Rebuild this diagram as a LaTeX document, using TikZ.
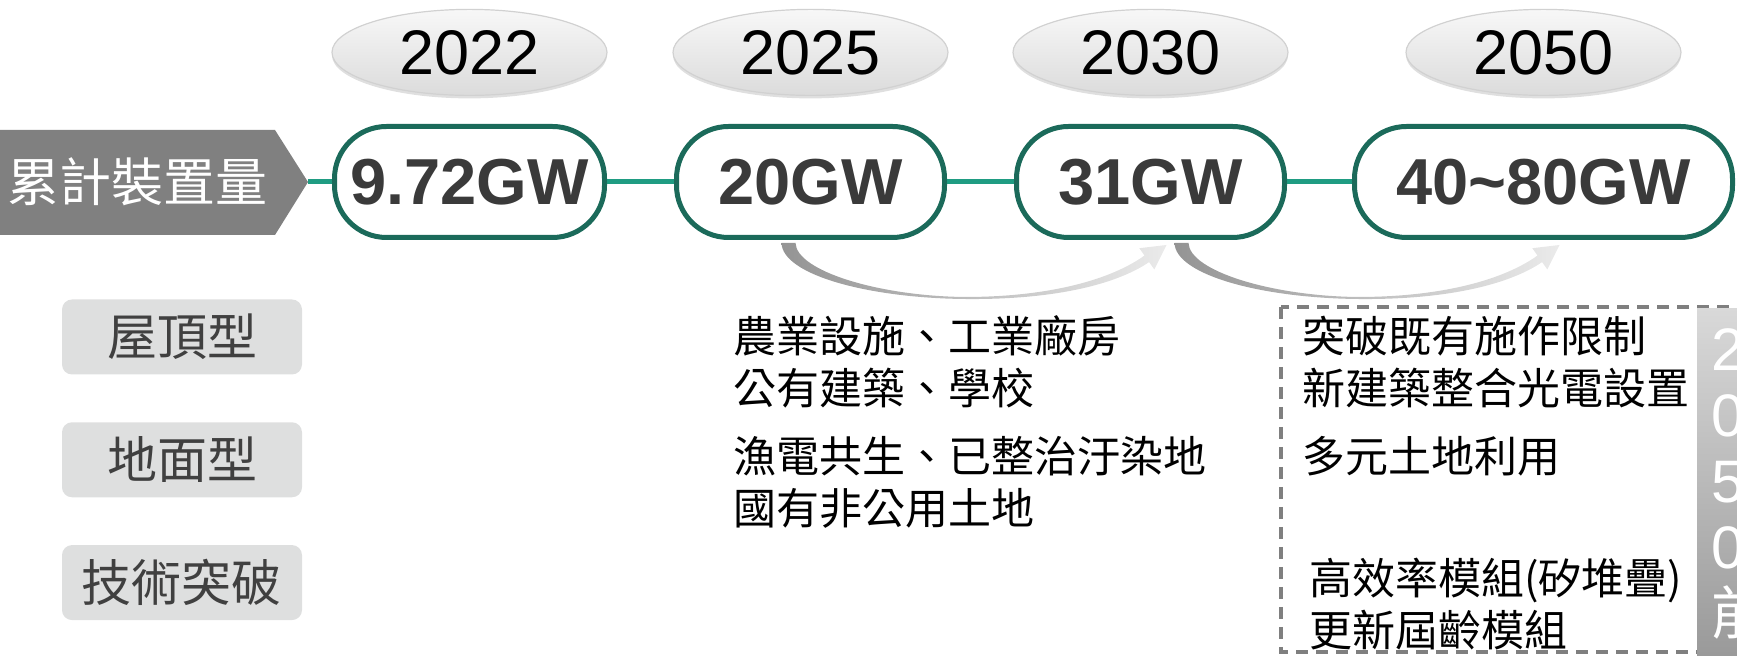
\documentclass[tikz,border=0pt]{standalone}
\usepackage{fontspec}
\setmainfont{Liberation Sans}
\newfontfamily\cjk{Noto Sans CJK TC}
\usetikzlibrary{positioning,calc,shadows,shapes.geometric}

\definecolor{tealdark}{HTML}{1B6A5A}
\definecolor{teallink}{HTML}{1F9C82}
\definecolor{gwtext}{HTML}{3A3A3A}
\definecolor{tagfill}{HTML}{DEDFDF}
\definecolor{tagtext}{HTML}{404040}
\definecolor{dashgray}{HTML}{7F7F7F}

% curved grey arrow, drawn from its start point
\newcommand{\bendarrow}[1]{%
  \begin{scope}[shift={(#1)}]
    \shade[left color=black!42, right color=black!8]
      (-7,0) .. controls (-6,32) and (80,55) .. (176,56)
      .. controls (270,57) and (330,40) .. (360.6,19.1)
      -- (365.8,26.4) -- (378,2) -- (350.8,5.2) -- (356,12.5)
      .. controls (325,35) and (265,54) .. (176,54)
      .. controls (90,53) and (8,28) .. (7,0) -- cycle;
  \end{scope}}

\begin{document}
\begin{tikzpicture}[x=0.5pt, y=-0.5pt,
  yearbub/.style={ellipse, minimum width=137.5pt, minimum height=43pt, inner sep=0pt,
                  top color=black!3, bottom color=black!14, draw=black!18, line width=0.6pt,
                  drop shadow={shadow xshift=0pt, shadow yshift=-1.5pt, opacity=0.25},
                  font=\fontsize{31.5pt}{36pt}\selectfont},
  goal/.style={rectangle, rounded corners=26pt, draw=tealdark, line width=2.5pt, fill=white,
               minimum height=55.5pt, inner sep=0pt, text=gwtext,
               font=\bfseries\fontsize{32.5pt}{36pt}\selectfont},
  rowtag/.style={rectangle, rounded corners=5pt, fill=tagfill, minimum width=120pt,
                 minimum height=37.5pt, inner sep=0pt, text=tagtext,
                 font=\cjk\fontsize{25pt}{30pt}\selectfont},
  notes/.style={anchor=west, align=left, inner sep=0pt,
                font=\cjk\fontsize{21.5pt}{26pt}\selectfont},
  joint/.style={draw=teallink, line width=2.5pt},
  dashbox/.style={draw=dashgray, line width=1.6pt, dash pattern=on 6pt off 4pt}
]
\useasboundingbox (0,0) rectangle (1737,656);

% ---------------- Capacidade acumulada ----------------
\fill[black!50] (0,130) -- (275,130) -- (308,182) -- (275,235) -- (0,235) -- cycle;
\node[anchor=west, inner sep=0pt, text=white, font=\cjk\fontsize{26pt}{30pt}\selectfont]
  (cum) at (7,182) {累計裝置量};
\coordinate (cumtip) at (308,182);

\node[goal, minimum width=135pt] (s1) at (469.5,182) {9.72GW};
\node[goal, minimum width=134pt, right=33.5pt of s1] (s2) {20GW};
\node[goal, minimum width=134pt, right=33.5pt of s2] (s3) {31GW};
\node[goal, minimum width=189pt, right=32.5pt of s3] (s4) {40\textasciitilde80GW};

% ---------------- Anos ----------------
\node[yearbub, above=14pt of s1] (y1) {2022};
\node[yearbub, above=14pt of s2] (y2) {2025};
\node[yearbub, above=14pt of s3] (y3) {2030};
\node[yearbub, above=14pt of s4] (y4) {2050};

\draw[joint] (cumtip) -- (s1.west);
\draw[joint] (s1) -- (s2);
\draw[joint] (s2) -- (s3);
\draw[joint] (s3) -- (s4);

% ---------------- Setas curvas ----------------
\coordinate (a1) at ($(s2.south)+(-22,3)$);
\coordinate (a2) at ($(s3.south)+(31,3)$);
\bendarrow{a1}
\bendarrow{a2}

% ---------------- Linhas ----------------
\node[rowtag] (r1) at (182,337) {屋頂型};
\node[rowtag, below=23.5pt of r1] (r2) {地面型};
\node[rowtag, below=23.5pt of r2] (r3) {技術突破};

\node[notes] (n1) at (733,362) {農業設施、工業廠房\\公有建築、學校};
\node[notes] (n2) at (733,482.5) {漁電共生、已整治汙染地\\國有非公用土地};
\node[notes] (n3) at (1302,362) {突破既有施作限制\\新建築整合光電設置};
\node[notes] (n4) at (1302,456) {多元土地利用};
\node[notes] (n5) at (1309,604) {高效率模組(矽堆疊)\\更新屆齡模組};

% ---------------- 2050 ----------------
\begin{scope}
  \clip (0,0) rectangle (1737,656);
  \draw[dashbox] (1281,307) rectangle (1760,652);
  \shade[top color=black!15, bottom color=black!40] (1697,309) rectangle (1760,660);
  \node[anchor=north west, inner sep=0pt, align=left, text=white,
        font=\fontsize{30pt}{33pt}\selectfont]
    (yr) at (1711,328) {2\\0\\5\\0\\{\cjk\fontsize{29pt}{33pt}\selectfont 前}};
\end{scope}

\end{tikzpicture}
\end{document}
